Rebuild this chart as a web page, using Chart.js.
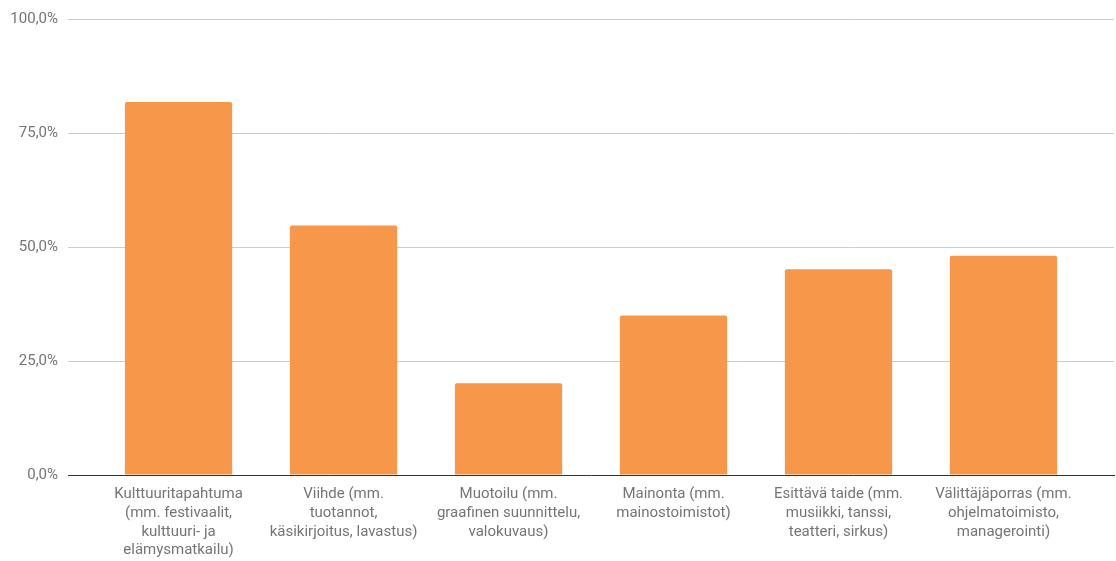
<!DOCTYPE html>
<html lang="fi">
<head>
  <meta charset="UTF-8">
  <title>Toimialat</title>
  <script src="https://cdn.jsdelivr.net/npm/chart.js"></script>
  <style>
    body, html {
      margin: 0;
      padding: 0;
      background: #fff;
      overflow: hidden;
    }
    .chart-box {
      width: 1116px;
      height: 561px;
    }
  </style>
</head>
<body>
  <div class="chart-box">
    <canvas id="barChart"></canvas>
  </div>

  <script>
    // categories (split into the lines shown under each bar)
    const categories = [
      ['Kulttuuritapahtuma', '(mm. festivaalit,', 'kulttuuri- ja', 'elämysmatkailu)'],
      ['Viihde (mm.', 'tuotannot,', 'käsikirjoitus, lavastus)'],
      ['Muotoilu (mm.', 'graafinen suunnittelu,', 'valokuvaus)'],
      ['Mainonta (mm.', 'mainostoimistot)'],
      ['Esittävä taide (mm.', 'musiikki, tanssi,', 'teatteri, sirkus)'],
      ['Välittäjäporras (mm.', 'ohjelmatoimisto,', 'managerointi)']
    ];
    const shares = [81.8, 54.7, 20.1, 35.0, 45.1, 48.1];
    const yTicks = [0, 25, 50, 75, 100];

    const labelColor = '#757575';

    const ctx = document.getElementById('barChart').getContext('2d');
    new Chart(ctx, {
      type: 'bar',
      data: {
        datasets: [{
          data: shares.map((v, i) => ({ x: i, y: v })),
          backgroundColor: '#f6974a',
          borderRadius: { topLeft: 2, topRight: 2 },
          borderSkipped: 'bottom',
          categoryPercentage: 1,
          barPercentage: 0.65
        }]
      },
      options: {
        responsive: true,
        maintainAspectRatio: false,
        animation: false,
        layout: { padding: { top: 16, right: 2, left: 0, bottom: 0 } },
        plugins: {
          legend: { display: false },
          tooltip: { enabled: false }
        },
        scales: {
          x: {
            type: 'linear',
            min: -0.67,
            max: 5.67,
            offset: false,
            afterBuildTicks: (scale) => {
              scale.ticks = categories.map((_, i) => ({ value: i }));
            },
            afterFit: (scale) => { scale.height = 86; },
            grid: { display: false, offset: false, drawTicks: false },
            border: { display: true, color: '#333333', width: 1 },
            ticks: {
              autoSkip: false,
              maxRotation: 0,
              padding: 10,
              color: labelColor,
              font: { family: 'Roboto', size: 15, lineHeight: 1.25 },
              callback: (v) => categories[v]
            }
          },
          y: {
            min: 0,
            max: 100,
            afterBuildTicks: (scale) => {
              scale.ticks = yTicks.map(v => ({ value: v }));
            },
            afterFit: (scale) => { scale.width = 68; },
            grid: { color: '#cccccc', drawTicks: false },
            border: { display: false },
            ticks: {
              padding: 10,
              color: labelColor,
              font: { family: 'Roboto', size: 15 },
              callback: (v) => v.toFixed(1).replace('.', ',') + '%'
            }
          }
        }
      }
    });
  </script>
</body>
</html>
